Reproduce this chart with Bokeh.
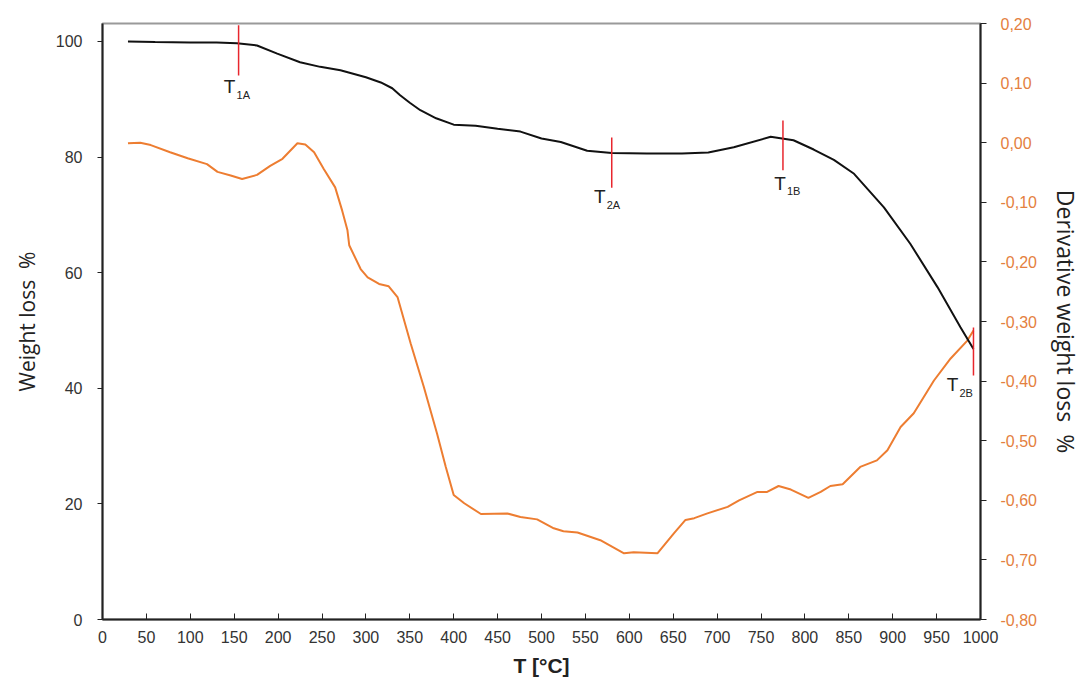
import numpy as np
from bokeh.plotting import figure
from bokeh.models import Range1d, LinearAxis, FixedTicker, CustomJSTickFormatter
from bokeh.core.properties import value
from bokeh.embed import file_html
from bokeh.resources import INLINE

# ---- data -------------------------------------------------------------
temp_w = [29, 60, 100, 130, 153, 176, 199, 225, 248, 271, 300, 317, 330, 339, 350,
          362, 380, 400, 425, 450, 476, 500, 522, 552, 580, 620, 660, 690, 719, 761,
          787, 810, 833, 856, 890, 920, 951, 977, 992]
weight = [100.0, 99.9, 99.8, 99.8, 99.7, 99.3, 97.9, 96.4, 95.6, 95.0, 93.8, 92.9, 91.9,
          90.7, 89.4, 88.1, 86.7, 85.6, 85.4, 84.9, 84.4, 83.2, 82.6, 81.1, 80.7, 80.6,
          80.6, 80.8, 81.7, 83.5, 82.9, 81.3, 79.5, 77.1, 71.3, 65.0, 57.5, 50.6, 46.8]

temp_d = [29, 43, 55, 77, 97, 119, 131, 146, 159, 176, 191, 205, 222, 231, 241, 252,
          265, 273, 279, 281, 294, 302, 315, 326, 336, 351, 366, 381, 391, 400, 412,
          431, 461, 476, 495, 514, 525, 541, 567, 594, 605, 632, 651, 664, 674, 689,
          712, 725, 746, 757, 770, 784, 804, 818, 829, 843, 863, 882, 894, 909, 924,
          947, 966, 985, 992]
deriv = [-0.001, 0.000, -0.004, -0.016, -0.026, -0.036, -0.049, -0.055, -0.061, -0.054,
         -0.039, -0.027, -0.001, -0.003, -0.016, -0.044, -0.075, -0.114, -0.147, -0.172,
         -0.212, -0.226, -0.237, -0.241, -0.259, -0.337, -0.410, -0.488, -0.544, -0.591,
         -0.605, -0.623, -0.622, -0.628, -0.632, -0.647, -0.652, -0.654, -0.667, -0.689,
         -0.687, -0.689, -0.655, -0.633, -0.630, -0.622, -0.611, -0.600, -0.586, -0.586,
         -0.576, -0.582, -0.596, -0.586, -0.576, -0.573, -0.544, -0.533, -0.516, -0.477,
         -0.454, -0.399, -0.362, -0.332, -0.315]

x_ticks = list(range(0, 1001, 50))
w_ticks = [0, 20, 40, 60, 80, 100]
d_ticks = [-0.8, -0.7, -0.6, -0.5, -0.4, -0.3, -0.2, -0.1, 0.0, 0.1, 0.2]

mark_T = [155, 580, 775, 992]
mark_top = [102.8, 83.4, 86.3, 50.5]
mark_bottom = [94.1, 74.7, 77.7, 42.2]
mark_sub = ["1A", "2A", "1B", "2B"]

# ---- styling ----------------------------------------------------------
ORANGE = "#ED7D31"
LABEL_ORANGE = "#E4803E"
TICK_FONT = "Liberation Sans"
NB = "\u00a0"

p = figure(width=1089, height=684, output_backend="svg", toolbar_location=None,
           x_range=Range1d(0, 1000), y_range=Range1d(0, 103.1),
           min_border_left=102, min_border_right=109, min_border_top=23,
           min_border_bottom=65)
p.extra_y_ranges = {"d": Range1d(-0.8, 0.2)}
p.grid.visible = False
p.outline_line_color = "#9a9a9a"
p.outline_line_width = 2
p.background_fill_color = "white"
p.border_fill_color = "white"

# bottom axis
xa = p.xaxis[0]
xa.ticker = FixedTicker(ticks=x_ticks)
xa.major_tick_in = 6
xa.major_tick_out = 0
xa.minor_tick_line_color = None
xa.axis_line_width = 2
xa.axis_line_color = "#222222"
xa.major_tick_line_color = "#222222"
xa.major_label_text_font = TICK_FONT
xa.major_label_text_font_size = "16px"
xa.major_label_text_color = "#333333"
xa.major_label_standoff = 11
xa.axis_label = "T [°C]"
xa.axis_label_text_font = "Liberation Sans"
xa.axis_label_text_font_style = "bold"
xa.axis_label_text_font_size = "21px"
xa.axis_label_text_color = "#222222"
xa.axis_label_standoff = 8

# left axis
ya = p.yaxis[0]
ya.ticker = FixedTicker(ticks=w_ticks)
ya.major_tick_in = 0
ya.major_tick_out = 5
ya.minor_tick_line_color = None
ya.axis_line_width = 2
ya.axis_line_color = "#222222"
ya.major_tick_line_color = "#222222"
ya.major_label_text_font = TICK_FONT
ya.major_label_text_font_size = "16px"
ya.major_label_text_color = "#333333"
ya.major_label_standoff = 15
ya.axis_label = "Weight loss" + NB + NB + "%"
ya.axis_label_text_font = "Open Sans"
ya.axis_label_text_font_style = "normal"
ya.axis_label_text_font_size = "21px"
ya.axis_label_text_color = "#222222"
ya.axis_label_standoff = 12

# right axis
ra = LinearAxis(y_range_name="d", ticker=FixedTicker(ticks=d_ticks),
                formatter=CustomJSTickFormatter(code="return tick.toFixed(2).replace('.', ',');"))
ra.major_tick_in = 0
ra.major_tick_out = 6
ra.minor_tick_line_color = None
ra.axis_line_width = 2
ra.axis_line_color = "#222222"
ra.major_tick_line_color = "#222222"
ra.major_label_text_font = TICK_FONT
ra.major_label_text_font_size = "16px"
ra.major_label_text_color = LABEL_ORANGE
ra.major_label_standoff = 14
ra.axis_label = "Derivative" + NB + "weight" + NB + "loss" + NB + NB + "%"
ra.axis_label_text_font = "Open Sans"
ra.axis_label_text_font_style = "normal"
ra.axis_label_text_font_size = "23px"
ra.axis_label_text_color = "#222222"
ra.axis_label_standoff = 10
p.add_layout(ra, "right")

# curves
p.line(temp_d, deriv, line_color=ORANGE, line_width=2, y_range_name="d")
p.line(temp_w, weight, line_color="#111111", line_width=2)

# markers
p.segment(x0=mark_T, y0=mark_top, x1=mark_T, y1=mark_bottom,
          line_color="#E8262D", line_width=1.5)
p.text(x=mark_T, y=mark_bottom, text=["T"] * len(mark_T),
       x_offset=[-9, -12, -3, -21], y_offset=[11, 9, 13, 9],
       text_font=value("Liberation Sans"), text_font_size="19px",
       text_align="center", text_baseline="middle", text_color="#222222")
p.text(x=mark_T, y=mark_bottom, text=mark_sub,
       x_offset=[-2, -5, 4, -14], y_offset=[19, 17, 21, 17],
       text_font=value("Liberation Sans"), text_font_size="11px",
       text_align="left", text_baseline="middle", text_color="#222222")

open("out.html", "w").write(file_html(p, INLINE))
